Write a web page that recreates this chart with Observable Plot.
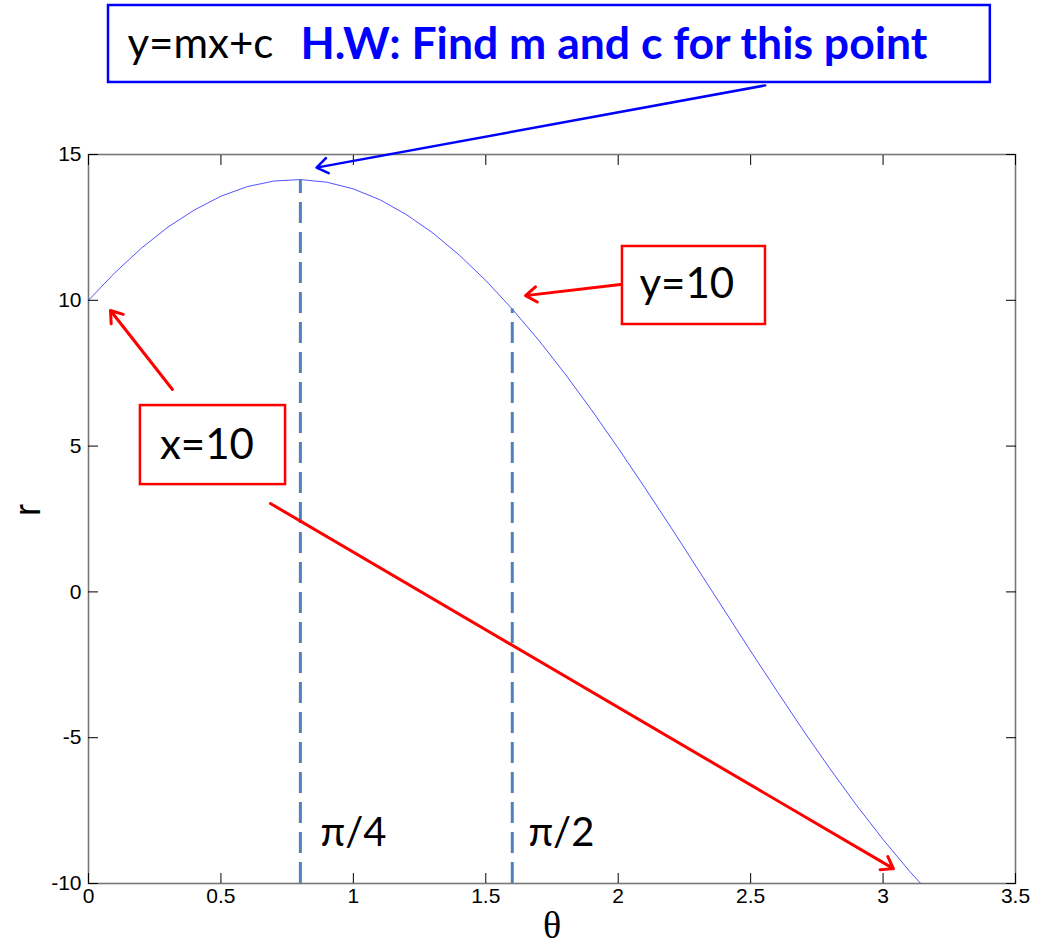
<!DOCTYPE html>
<html>
<head>
<meta charset="utf-8">
<script src="https://cdn.jsdelivr.net/npm/d3@7"></script>
<script src="https://cdn.jsdelivr.net/npm/@observablehq/plot@0.6"></script>
<style>
  html, body { margin: 0; padding: 0; background: #fff; }
</style>
</head>
<body>
<div id="chart"></div>
<script>
// Hough-space curve for the point (10, 10): r against θ
const theta = [0, 0.1, 0.2, 0.3, 0.4, 0.5, 0.6, 0.7, 0.8, 0.9, 1.0, 1.1, 1.2, 1.3, 1.4, 1.5,
  1.6, 1.7, 1.8, 1.9, 2.0, 2.1, 2.2, 2.3, 2.4, 2.5, 2.6, 2.7, 2.8, 2.9, 3.0, 3.1, 3.14];
const r = [10, 10.95, 11.79, 12.51, 13.10, 13.57, 13.90, 14.09, 14.14, 14.05, 13.82, 13.45,
  12.94, 12.31, 11.55, 10.68, 9.70, 8.63, 7.47, 6.23, 4.93, 3.58, 2.20, 0.79, -0.62, -2.03,
  -3.41, -4.77, -6.07, -7.32, -8.49, -9.58, -9.98];

// marked angles (dashed guides) and their labels
const guideTheta = [0.8, 1.6];
const guideR = [14.14, 9.70];
const guideLabels = ["π/4", "π/2"];
const guideLabelTheta = [0.876, 1.661];
const guideLabelR = -8.28;

// axis ticks and their labels
const xTicks = [0, 0.5, 1, 1.5, 2, 2.5, 3, 3.5];
const xTickLabels = ["0", "0.5", "1", "1.5", "2", "2.5", "3", "3.5"];
const yTicks = [-10, -5, 0, 5, 10, 15];
const yTickLabels = ["-10", "-5", "0", "5", "10", "15"];

// callout boxes: [x1, x2, y1, y2]
const boxes = [
  {x1: 0.0755, x2: 3.405, y1: 17.47, y2: 20.11, color: "#0000ff"},
  {x1: 2.016, x2: 2.556, y1: 9.17, y2: 11.845, color: "#ff0000"},
  {x1: 0.196, x2: 0.744, y1: 3.68, y2: 6.39, color: "#ff0000"}
];
const boxTexts = [
  {x: 2.259, y: 10.54, text: "y=10"},
  {x: 0.447, y: 5.02, text: "x=10"}
];
const titlePlain = {x: 0.147, y: 18.77, text: "y=mx+c"};
const titleBold = {x: 0.800, y: 18.77, text: "H.W: Find m and c for this point"};

// callout arrows
const arrows = [
  {x1: 2.555, y1: 17.37, x2: 0.861, y2: 14.55, color: "#0000ff", w: 2.5},
  {x1: 2.008, y1: 10.54, x2: 1.650, y2: 10.16, color: "#ff0000", w: 3},
  {x1: 0.317, y1: 6.94, x2: 0.083, y2: 9.65, color: "#ff0000", w: 3},
  {x1: 0.687, y1: 3.03, x2: 3.039, y2: -9.49, color: "#ff0000", w: 3}
];

const curve = theta.map((t, i) => ({theta: t, r: r[i]}));
const guides = guideTheta.map((t, i) => ({theta: t, r: guideR[i], label: guideLabels[i], lx: guideLabelTheta[i]}));
const xLabelRows = xTicks.map((v, i) => ({v, label: xTickLabels[i]}));
const yLabelRows = yTicks.map((v, i) => ({v, label: yTickLabels[i]}));

const calloutFont = "Lato, 'Open Sans', sans-serif";
const tickFont = "'Liberation Sans', Arial, sans-serif";
const blank = () => "";

const chart = Plot.plot({
  width: 1043,
  height: 949,
  marginLeft: 88,
  marginRight: 28,
  marginTop: 154,
  marginBottom: 66,
  style: {background: "#fff", fontFamily: tickFont, overflow: "visible"},
  x: {domain: [0, 3.5]},
  y: {domain: [-10, 15]},
  marks: [
    Plot.frame({stroke: "#777", strokeWidth: 1.6}),
    // inward ticks on all four sides
    Plot.axisX(xTicks, {anchor: "bottom", tickSize: -10, tickFormat: blank, label: null, stroke: "#000"}),
    Plot.axisX(xTicks, {anchor: "top", tickSize: -10, tickFormat: blank, label: null, stroke: "#000"}),
    Plot.axisY(yTicks, {anchor: "left", tickSize: -10, tickFormat: blank, label: null, stroke: "#000"}),
    Plot.axisY(yTicks, {anchor: "right", tickSize: -10, tickFormat: blank, label: null, stroke: "#000"}),
    // tick labels
    Plot.text(xLabelRows, {x: "v", text: "label", frameAnchor: "bottom", dy: 19, fontSize: 21, fontFamily: tickFont, fill: "#000"}),
    Plot.text(yLabelRows, {y: "v", text: "label", frameAnchor: "left", dx: -7, textAnchor: "end", fontSize: 21, fontFamily: tickFont, fill: "#000"}),
    // axis titles
    Plot.text(["θ"], {frameAnchor: "bottom", dy: 54, fontSize: 38, fontFamily: "'Liberation Serif', 'Times New Roman', serif", fill: "#000"}),
    Plot.text(["r"], {frameAnchor: "left", dx: -60, dy: -3, rotate: -90, fontSize: 36, fontFamily: tickFont, fill: "#000"}),
    // curve and guides
    Plot.line(curve, {x: "theta", y: "r", stroke: "#0000ff", strokeWidth: 0.8, strokeOpacity: 0.85}),
    Plot.ruleX(guides, {x: "theta", y1: -10, y2: "r", stroke: "#4f81bd", strokeWidth: 3, strokeDasharray: "21 9"}),
    Plot.text(guides, {x: "lx", y: guideLabelR, text: "label", textAnchor: "start", fontSize: 40, fontFamily: calloutFont, fill: "#000"}),
    // callouts
    Plot.arrow(arrows, {x1: "x1", y1: "y1", x2: "x2", y2: "y2", stroke: "color", strokeWidth: "w", headAngle: 70, headLength: 20}),
    Plot.rect(boxes, {x1: "x1", x2: "x2", y1: "y1", y2: "y2", fill: "#fff", stroke: "color", strokeWidth: 2.5}),
    Plot.text(boxTexts, {x: "x", y: "y", text: "text", fontSize: 42, fontFamily: calloutFont, fill: "#000"}),
    Plot.text([titlePlain], {x: "x", y: "y", text: "text", textAnchor: "start", fontSize: 42, fontFamily: calloutFont, fill: "#000"}),
    Plot.text([titleBold], {x: "x", y: "y", text: "text", textAnchor: "start", fontSize: 44.5, fontWeight: "bold", fontFamily: calloutFont, fill: "#0000ff"})
  ]
});

document.getElementById("chart").appendChild(chart);
</script>
</body>
</html>
